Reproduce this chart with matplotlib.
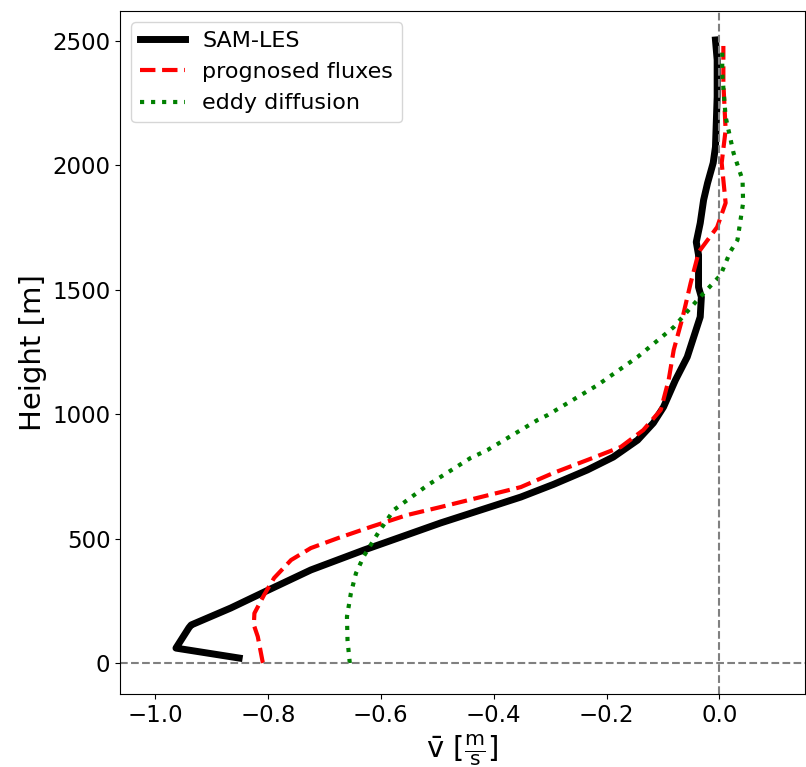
import matplotlib
matplotlib.use("Agg")
import matplotlib.pyplot as plt

# SAM-LES reference profile (v in m/s, height in m)
les_v = [-0.851, -0.963, -0.940, -0.936, -0.866, -0.807, -0.724, -0.630, -0.565,
         -0.494, -0.423, -0.352, -0.294, -0.234, -0.188, -0.145, -0.117, -0.099,
         -0.078, -0.057, -0.034, -0.032, -0.037, -0.037, -0.041, -0.034, -0.028,
         -0.021, -0.011, -0.007, -0.004, -0.004, -0.007]
les_z = [20, 60, 142, 153, 221, 285, 374, 454, 506,
         563, 615, 667, 718, 776, 828, 896, 965, 1029,
         1137, 1230, 1391, 1471, 1511, 1640, 1692, 1768, 1861,
         1929, 2010, 2074, 2275, 2424, 2504]

# prognosed fluxes
prog_v = [-0.809, -0.818, -0.825, -0.824, -0.807, -0.789, -0.759, -0.724, -0.676,
          -0.618, -0.553, -0.494, -0.423, -0.352, -0.294, -0.234, -0.175, -0.135,
          -0.104, -0.090, -0.081, -0.065, -0.051, -0.037, -0.034, -0.004, 0.011,
          0.007, 0.004, 0.011, 0.007, 0.007]
prog_z = [0, 106, 153, 200, 273, 342, 414, 462, 502,
          547, 595, 627, 667, 707, 764, 816, 868, 936,
          1017, 1137, 1258, 1391, 1527, 1648, 1660, 1752, 1849,
          1941, 2010, 2142, 2331, 2480]

# eddy diffusion
eddy_v = [-0.655, -0.659, -0.660, -0.653, -0.644, -0.630, -0.605, -0.577, -0.517,
          -0.441, -0.411, -0.322, -0.304, -0.216, -0.145, -0.081, -0.039, 0.002,
          0.019, 0.032, 0.042, 0.041, 0.025, 0.011, 0.005, 0.005]
eddy_z = [0, 92, 186, 281, 361, 430, 522, 615, 715,
          824, 856, 977, 997, 1117, 1230, 1350, 1459, 1559,
          1652, 1700, 1849, 1941, 2050, 2195, 2371, 2480]


def main():
    fig = plt.figure(figsize=(8.06, 7.67), dpi=100)
    ax = fig.add_axes([0.149, 0.095, 0.85, 0.8905])

    ax.plot(les_v, les_z, color="black", lw=5, label="SAM-LES")
    ax.plot(prog_v, prog_z, color="red", ls="--", lw=3, label="prognosed fluxes")
    ax.plot(eddy_v, eddy_z, color="green", ls=":", lw=3, label="eddy diffusion")

    ax.axhline(0, color="gray", ls="--", lw=1.5)
    ax.axvline(0, color="gray", ls="--", lw=1.5)

    ax.set_xlim(-1.062, 0.152)
    ax.set_ylim(-125, 2620)
    ax.set_xticks([-1.0, -0.8, -0.6, -0.4, -0.2, 0.0])
    ax.set_yticks([0, 500, 1000, 1500, 2000, 2500])
    ax.tick_params(labelsize=16.5)

    ax.set_xlabel(r"$\mathrm{\bar{v}}\ [\frac{\mathrm{m}}{\mathrm{s}}]$", fontsize=21)
    ax.set_ylabel("Height [m]", fontsize=21)
    ax.legend(loc="upper left", fontsize=16)

    fig.savefig("out.png", dpi=100)


if __name__ == "__main__":
    main()
